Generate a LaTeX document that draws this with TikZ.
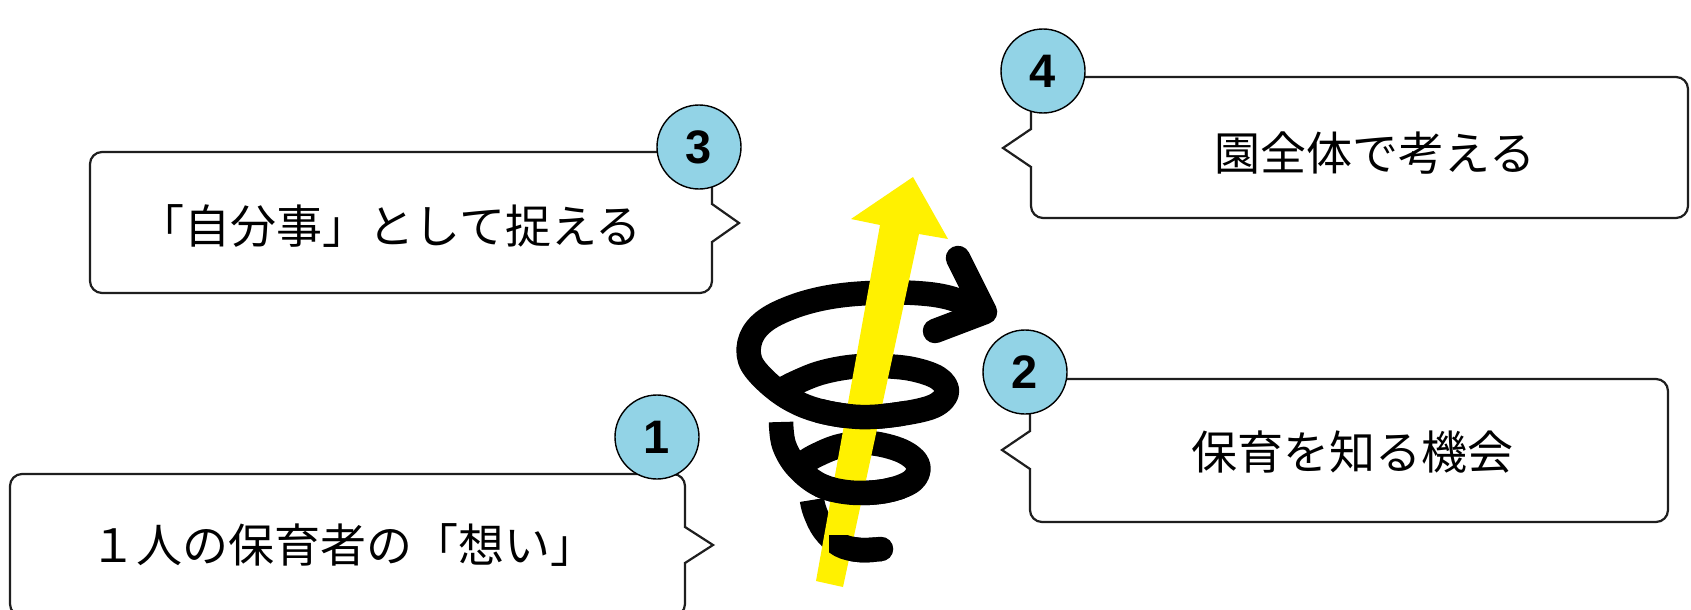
\documentclass[tikz,border=0pt]{standalone}
\usepackage{fontspec}
\newfontfamily\jpfont{Noto Sans CJK JP}
\newfontfamily\numfont{Liberation Sans}
\definecolor{circfill}{RGB}{146,211,230}
\definecolor{arrowyellow}{RGB}{255,241,0}
\definecolor{boxline}{RGB}{30,30,30}
\newcommand{\spA}{plot[smooth, tension=0.6] coordinates {(812,500) (815,512) (824,530) (840,545) (860,550) (881,549)}}
\newcommand{\spS}{plot[smooth, tension=0.6] coordinates {(781,422) (784,445) (797,467) (820,485) (850,492.5) (885,491) (912,481) (918,465) (902,451) (870,443) (840,446) (815,456) (799,466)}}
\newcommand{\spM}{plot[smooth, tension=0.6] coordinates {(778,392) (795,383) (820,373) (850,367) (880,366) (912,369) (938,378) (947,392) (934,406) (900,414) (860,417) (820,411) (790,399) (765,380) (750,360) (751,338) (766,320) (795,306) (830,297) (870,293) (915,293) (950,298) (985,312)}}
\begin{document}
\begin{tikzpicture}[x=1pt,y=-1pt,
  callout/.style={draw=boxline, line width=2.2pt, rounded corners=12pt},
  ptr/.style={draw=boxline, line width=2.2pt, line join=miter},
  numcircle/.style={circle, draw=black, line width=1.4pt, fill=circfill, minimum size=84pt, inner sep=0pt, font=\numfont\bfseries\fontsize{47}{47}\selectfont},
  lbl/.style={font=\jpfont\fontsize{46}{50}\selectfont, inner sep=0pt, anchor=center},
  spiral/.style={line width=24.5pt, black, line cap=butt, line join=round},
]
\useasboundingbox[fill=white] (0,0) rectangle (1691,610);

% ---- callout boxes ----
% box 1 (pointer right)
\draw[callout] (10,474) rectangle (685,616);
\fill[white] (683,528) rectangle (687,562);
\draw[ptr] (685,527) -- (713,545) -- (685,563);
% box 3 (pointer right)
\draw[callout] (90,152) rectangle (712,293);
\fill[white] (710,205) rectangle (714,241);
\draw[ptr] (712,204) -- (739,223) -- (712,242);
% box 4 (pointer left)
\draw[callout] (1031,77) rectangle (1688,218);
\fill[white] (1029,130) rectangle (1033,166);
\draw[ptr] (1031,129) -- (1003,148) -- (1031,167);
% box 2 (pointer left)
\draw[callout] (1030,379) rectangle (1668,522);
\fill[white] (1028,432) rectangle (1032,468);
\draw[ptr] (1030,431) -- (1002,450) -- (1030,469);

% ---- texts ----
\node[lbl] (t1) at (343,545) {１人の保育者の「想い」};
\node[lbl] (t3) at (390,226) {「自分事」として捉える};
\node[lbl] (t4) at (1375,153) {園全体で考える};
\node[lbl] (t2) at (1352,452) {保育を知る機会};

% ---- number circles ----
\node[numcircle] (c1) at (657,437) {1};
\node[numcircle] (c3) at (699,147) {3};
\node[numcircle] (c4) at (1043,71) {4};
\node[numcircle] (c2) at (1025,372) {2};

% ---- spiral (back) ----
\draw[spiral] \spA;
\fill (881,549) circle (12.25);
\draw[spiral] \spS;
\draw[spiral] \spM;
\draw[spiral, line cap=round] (958,258) -- (985,312) -- (935,331);

% ---- yellow arrow ----
\fill[arrowyellow] (816,581) -- (843,587) -- (919,234) -- (948,239) -- (913,177) -- (851,219) -- (880,225) -- cycle;

% ---- spiral (front parts) ----
\begin{scope}
  \clip (815,399) rectangle (905,434);
  \draw[spiral] \spM;
\end{scope}
\begin{scope}
  \clip (815,477) rectangle (905,512);
  \draw[spiral] \spS;
\end{scope}
\begin{scope}
  \clip (829,535) rectangle (875,568);
  \draw[spiral] \spA;
\end{scope}
\end{tikzpicture}
\end{document}
